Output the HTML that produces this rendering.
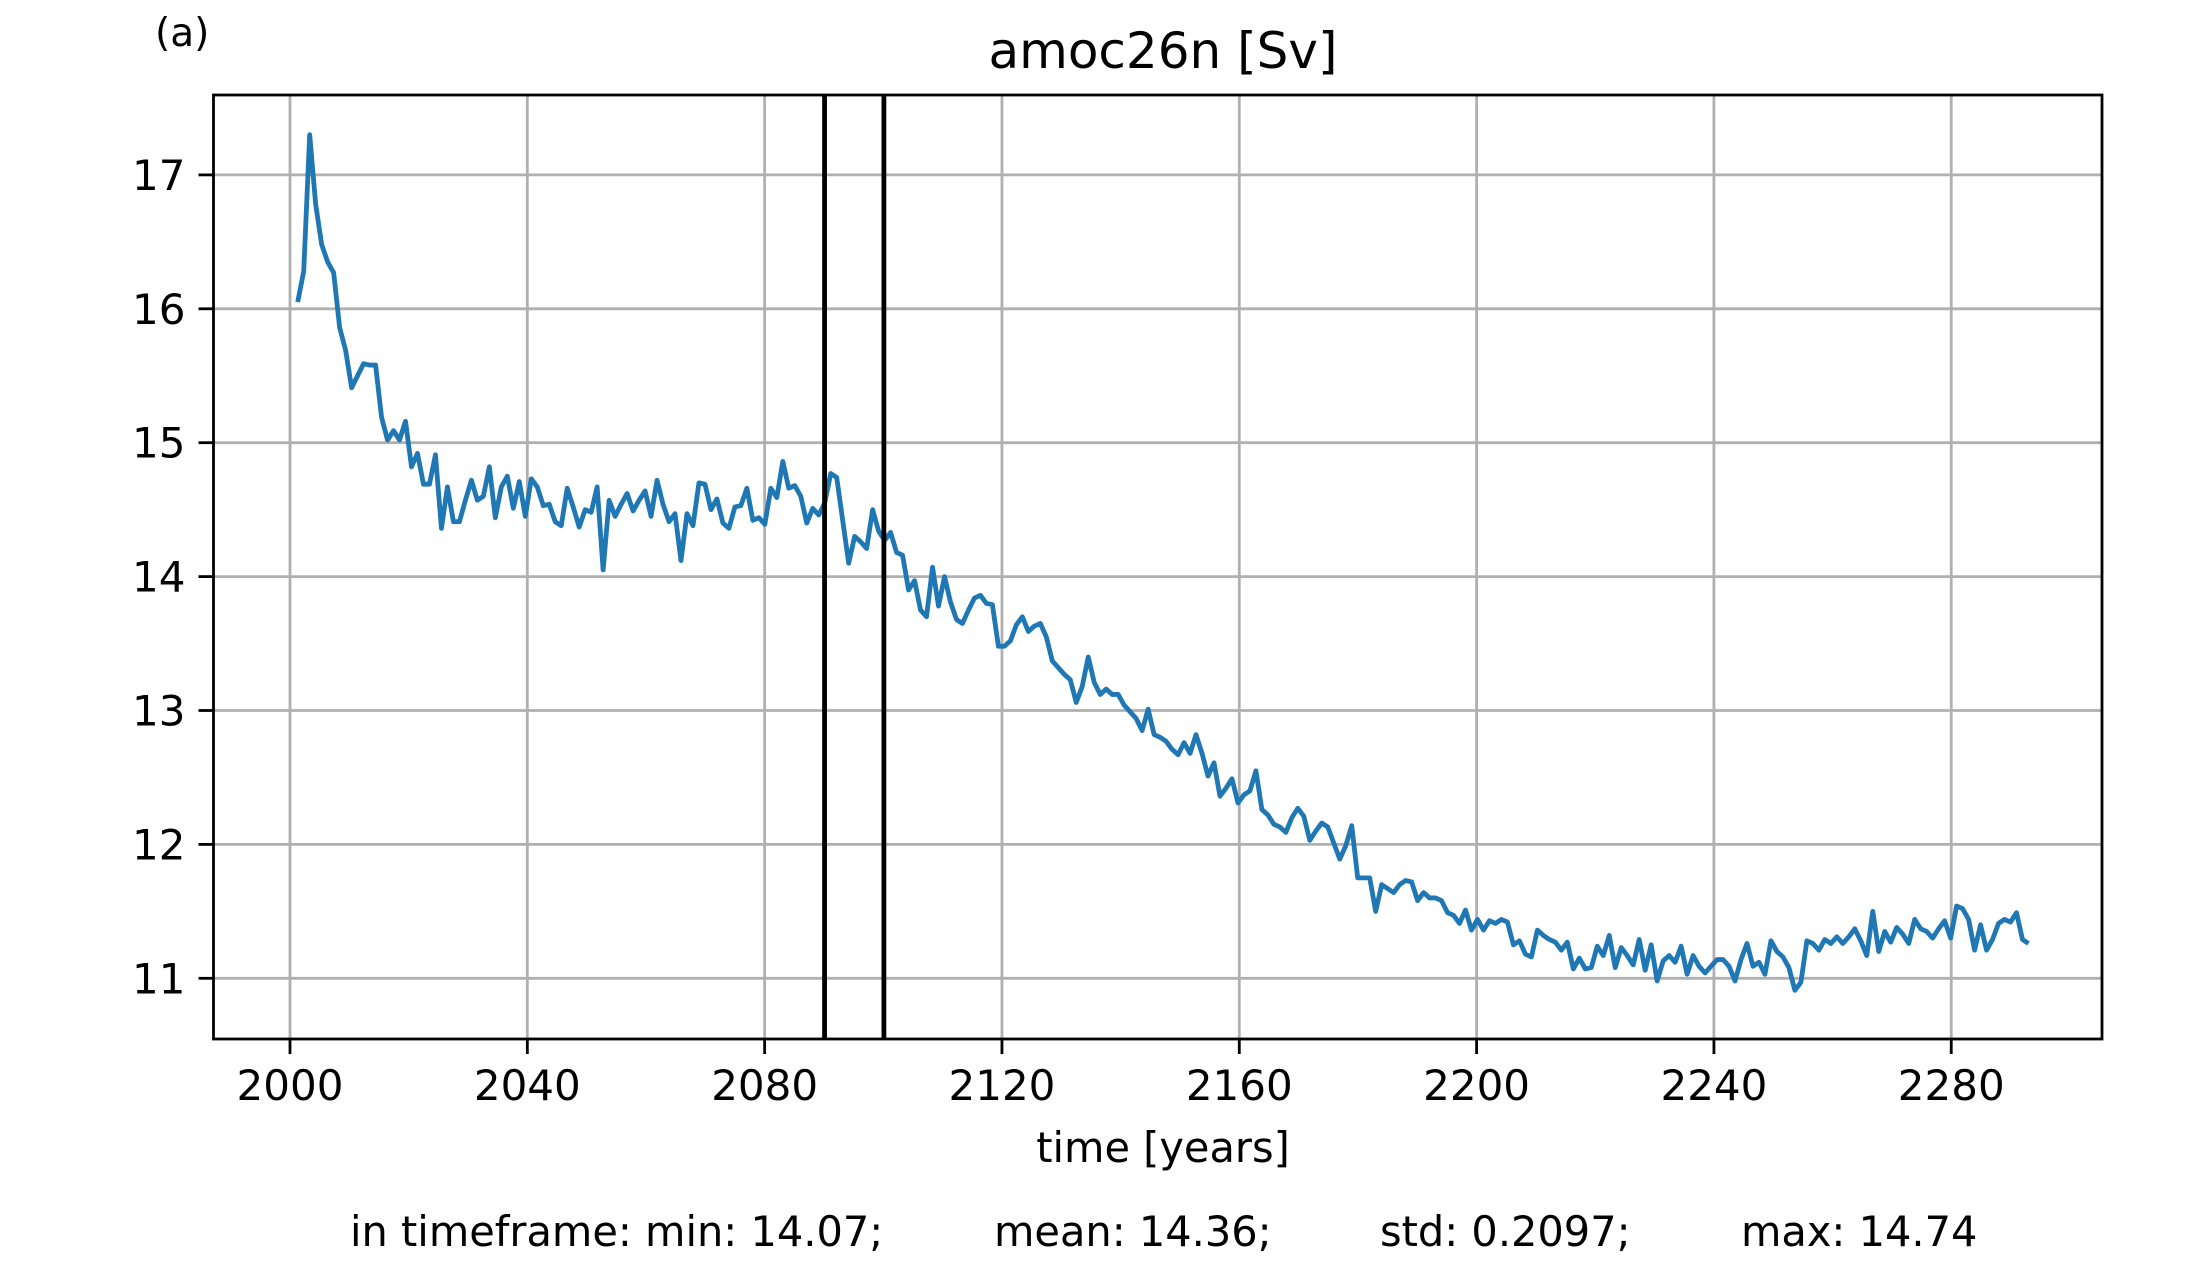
<!DOCTYPE html>
<html><head><meta charset="utf-8"><title>amoc26n</title>
<style>html,body{margin:0;padding:0;background:#fff;}svg{display:block;font-family:"DejaVu Sans","Liberation Sans",sans-serif;}</style>
</head><body>
<svg id="chart" width="2196" height="1263" viewBox="0 0 2196 1263" xmlns="http://www.w3.org/2000/svg">
<rect x="0" y="0" width="2196" height="1263" fill="#fff"/>
<g id="grid"></g>
<g id="marks"></g>
<rect x="213.5" y="95" width="1888.5" height="944" fill="none" stroke="#000" stroke-width="2.8"/>
<g id="ticks"></g>
<text x="155" y="46" font-size="39">(a)</text>
<text x="1163" y="68" font-size="50" text-anchor="middle">amoc26n [Sv]</text>
<text x="1163" y="1162" font-size="41.5" text-anchor="middle">time [years]</text>
<text x="350" y="1246" font-size="41.5">in timeframe: min: 14.07;</text>
<text x="994" y="1246" font-size="41.5">mean: 14.36;</text>
<text x="1380" y="1246" font-size="41.5">std: 0.2097;</text>
<text x="1741" y="1246" font-size="41.5">max: 14.74</text>
</svg>
<script>
const startYear = 2001.3;
const stepYears = 1.0094;
const amocValues = [16.05,16.28,17.30,16.78,16.48,16.35,16.27,15.86,15.69,15.41,15.50,15.59,15.58,15.58,15.19,15.02,15.09,15.02,15.16,14.82,
14.92,14.69,14.69,14.91,14.36,14.67,14.41,14.41,14.57,14.72,14.57,14.60,14.82,14.44,14.67,14.75,14.51,14.71,14.45,14.73,
14.67,14.53,14.54,14.41,14.38,14.66,14.52,14.37,14.50,14.48,14.67,14.05,14.57,14.45,14.54,14.62,14.49,14.57,14.64,14.45,
14.72,14.54,14.41,14.47,14.12,14.47,14.38,14.70,14.69,14.50,14.58,14.40,14.36,14.52,14.53,14.66,14.42,14.44,14.39,14.66,
14.59,14.86,14.66,14.68,14.60,14.40,14.51,14.46,14.55,14.77,14.74,14.42,14.10,14.30,14.26,14.21,14.50,14.34,14.27,14.33,
14.18,14.16,13.90,13.97,13.75,13.70,14.07,13.78,14.00,13.81,13.68,13.65,13.75,13.84,13.86,13.80,13.79,13.48,13.48,13.52,
13.64,13.70,13.59,13.63,13.65,13.55,13.37,13.32,13.27,13.23,13.06,13.18,13.40,13.21,13.12,13.16,13.12,13.12,13.04,12.99,
12.94,12.85,13.01,12.82,12.80,12.77,12.71,12.67,12.76,12.68,12.82,12.68,12.51,12.61,12.36,12.42,12.49,12.31,12.37,12.40,
12.55,12.26,12.22,12.15,12.13,12.09,12.20,12.27,12.21,12.03,12.10,12.16,12.13,12.01,11.89,11.99,12.14,11.75,11.75,11.75,
11.50,11.70,11.67,11.64,11.70,11.73,11.72,11.58,11.64,11.60,11.60,11.58,11.49,11.47,11.41,11.51,11.36,11.44,11.36,11.43,
11.41,11.44,11.42,11.25,11.28,11.18,11.16,11.36,11.32,11.29,11.27,11.21,11.27,11.07,11.15,11.07,11.08,11.24,11.17,11.32,
11.08,11.23,11.17,11.10,11.29,11.06,11.25,10.98,11.13,11.17,11.12,11.24,11.03,11.17,11.09,11.04,11.09,11.14,11.14,11.09,
10.98,11.14,11.26,11.09,11.12,11.03,11.28,11.20,11.16,11.08,10.91,10.97,11.28,11.26,11.21,11.29,11.26,11.31,11.26,11.31,
11.37,11.28,11.17,11.50,11.20,11.35,11.27,11.38,11.33,11.26,11.44,11.37,11.35,11.30,11.37,11.43,11.30,11.54,11.52,11.44,
11.21,11.40,11.21,11.29,11.41,11.44,11.42,11.49,11.29,11.26];
const timeframe = [2090.1, 2100.1];
const xTicks = [2000, 2040, 2080, 2120, 2160, 2200, 2240, 2280];
const yTicks = [11, 12, 13, 14, 15, 16, 17];

const NS = "http://www.w3.org/2000/svg";
const X0 = 213.5, X1 = 2102, Y0 = 95, Y1 = 1039;
function xs(yr){ return 290 + (yr - 2000) * 5.933; }
function ys(v){ return 978.3 - (v - 11) * 133.9; }
function mk(tag, attrs, parent){ const e = document.createElementNS(NS, tag); for (const k in attrs) e.setAttribute(k, attrs[k]); parent.appendChild(e); return e; }

const grid = document.getElementById('grid');
const ticks = document.getElementById('ticks');
const marks = document.getElementById('marks');

xTicks.forEach(t => {
  const x = xs(t);
  const g = mk('line', {x1:x, x2:x, y1:Y0, y2:Y1, stroke:'#b0b0b0', 'stroke-width':2.8}, grid);
  
  
  const tk = mk('line', {x1:x, x2:x, y1:Y1, y2:Y1+15, stroke:'#000', 'stroke-width':2.8}, ticks);
  
  
  const lb = mk('text', {x:x, y:Y1+61, 'font-size':42, 'text-anchor':'middle'}, ticks);
  lb.textContent = String(t);
  
  
});
yTicks.forEach(t => {
  const y = ys(t);
  const g = mk('line', {x1:X0, x2:X1, y1:y, y2:y, stroke:'#b0b0b0', 'stroke-width':2.8}, grid);
  
  
  const tk = mk('line', {x1:X0-15, x2:X0, y1:y, y2:y, stroke:'#000', 'stroke-width':2.8}, ticks);
  
  
  const lb = mk('text', {x:X0-28, y:y+15, 'font-size':42, 'text-anchor':'end'}, ticks);
  lb.textContent = String(t);
  
  
});

const pts = amocValues.map((v, i) => xs(startYear + i * stepYears).toFixed(2) + ',' + ys(v).toFixed(2)).join(' ');
const line = mk('polyline', {points:pts, fill:'none', stroke:'#1f77b4', 'stroke-width':4.8, 'stroke-linejoin':'round', 'stroke-linecap':'butt'}, marks);



timeframe.forEach(t => {
  const x = xs(t);
  const vl = mk('line', {x1:x, x2:x, y1:Y0, y2:Y1, stroke:'#000', 'stroke-width':4.8}, marks);
  
  
});
</script>
</body></html>
